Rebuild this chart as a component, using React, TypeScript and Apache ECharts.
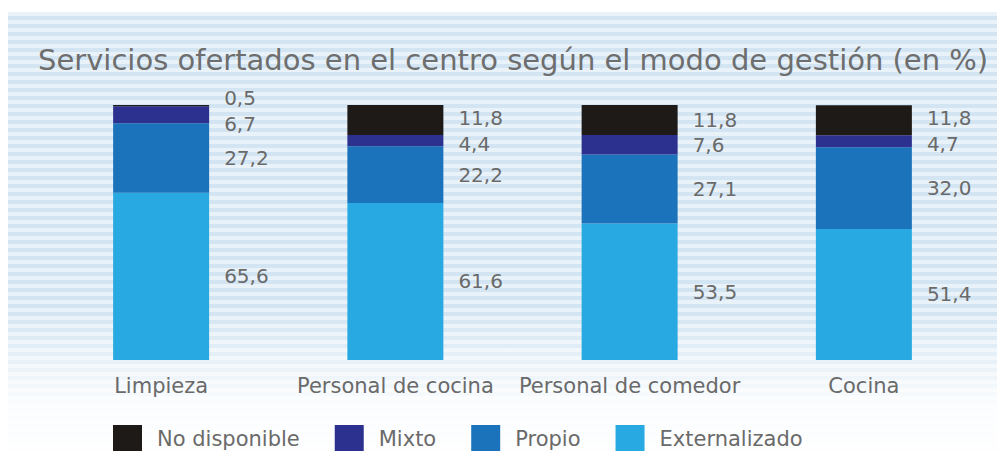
import React, { useEffect, useRef } from "react";
import * as echarts from "echarts";

const title = "Servicios ofertados en el centro según el modo de gestión (en %)";
const categories = ["Limpieza", "Personal de cocina", "Personal de comedor", "Cocina"];
const externalizado = [65.6, 61.6, 53.5, 51.4];
const propio = [27.2, 22.2, 27.1, 32.0];
const mixto = [6.7, 4.4, 7.6, 4.7];
const noDisponible = [0.5, 11.8, 11.8, 11.8];
const legendOrder = ["No disponible", "Mixto", "Propio", "Externalizado"];

const FONT = "'DejaVu Sans', 'Open Sans', sans-serif";
const TEXT = "#6a6a6a";

const fmt = (v: number) => v.toFixed(1).replace(".", ",");

// label nudges for thin segments (series name -> category index -> [dx, dy])
const labelNudge: Record<string, Record<number, [number, number]>> = {
  "No disponible": { 0: [0, -8], 1: [0, -2], 3: [0, -2] },
  Mixto: { 0: [0, 9], 1: [0, 3], 3: [0, 3] },
};

export default function App() {
  const ref = useRef<HTMLDivElement>(null);
  useEffect(() => {
    if (!ref.current) return;
    const chart = echarts.init(ref.current, undefined, { renderer: "svg" });
    const mk = (name: string, values: number[], color: string) => ({
      name,
      type: "bar",
      stack: "total",
      barWidth: 96,
      itemStyle: { color },
      label: {
        show: true,
        position: "right",
        distance: 15,
        fontFamily: FONT,
        fontSize: 20,
        color: TEXT,
        formatter: (p: any) => fmt(p.value),
      },
      data: values.map((v, i) => {
        const n = labelNudge[name] && labelNudge[name][i];
        return n ? { value: v, label: { offset: n } } : v;
      }),
    });
    chart.setOption({
      animation: false,
      backgroundColor: "transparent",
      title: {
        text: title,
        left: 33,
        top: 40,
        textStyle: { fontFamily: FONT, fontSize: 29, fontWeight: "normal", color: "#6e6e6e" },
      },
      legend: {
        data: legendOrder,
        left: 113,
        top: 425,
        padding: 0,
        icon: "rect",
        itemWidth: 29,
        itemHeight: 27,
        itemGap: 35,
        textStyle: { fontFamily: FONT, fontSize: 21, color: TEXT, padding: [0, 0, 0, 10] },
      },
      grid: { left: 44, right: 16, top: 105, bottom: 91 },
      xAxis: {
        type: "category",
        data: categories,
        axisLine: { show: false },
        axisTick: { show: false },
        axisLabel: { fontFamily: FONT, fontSize: 21, color: TEXT, margin: 15, interval: 0 },
      },
      yAxis: { type: "value", min: 0, max: 100, show: false },
      series: [
        mk("Externalizado", externalizado, "#29a9e1"),
        mk("Propio", propio, "#1b74bb"),
        mk("Mixto", mixto, "#2c3190"),
        mk("No disponible", noDisponible, "#1e1a18"),
      ],
    });
    return () => chart.dispose();
  }, []);

  return (
    <div style={{ position: "fixed", left: 0, top: 0, width: 997, height: 451, background: "#fff", overflow: "hidden" }}>
      <div
        style={{
          position: "absolute",
          left: 8,
          top: 12,
          right: 0,
          bottom: 0,
          backgroundImage:
            "linear-gradient(to bottom, rgba(255,255,255,0) 0px, rgba(255,255,255,0) 300px, rgba(255,255,255,0.92) 395px, rgba(255,255,255,0.95) 439px), repeating-linear-gradient(to bottom, #e9f2f9 0px, #e9f2f9 4px, #d3e5f2 4px, #d3e5f2 8px)",
        }}
      />
      <div ref={ref} style={{ position: "absolute", left: 0, top: 0, width: 997, height: 451 }} />
    </div>
  );
}
